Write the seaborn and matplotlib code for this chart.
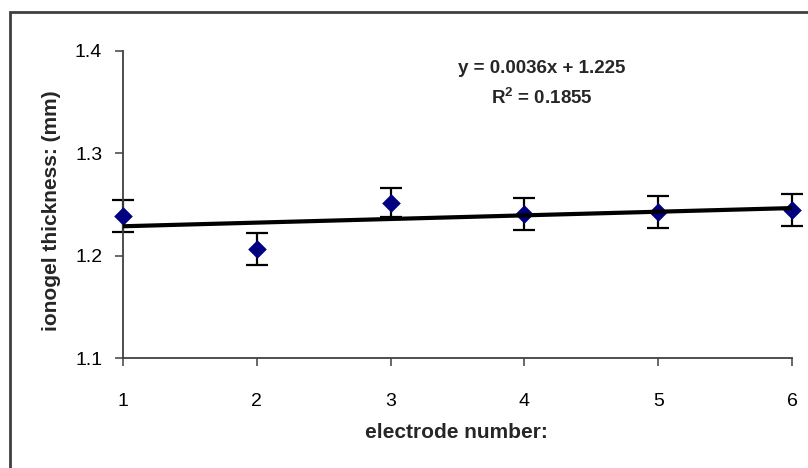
import matplotlib
matplotlib.use("Agg")
import matplotlib.pyplot as plt
import seaborn as sns
import pandas as pd
from matplotlib.patches import Rectangle

# data
electrodes = [1, 2, 3, 4, 5, 6]
thickness = [1.2387, 1.2068, 1.2518, 1.2407, 1.2426, 1.2443]
errors = [0.0155, 0.0157, 0.0145, 0.0156, 0.0158, 0.0157]
x_ticks = [1, 2, 3, 4, 5, 6]
y_ticks = [1.1, 1.2, 1.3, 1.4]
y_tick_labels = ["1.1", "1.2", "1.3", "1.4"]
eq_text = "y = 0.0036x + 1.225\nR$^2$ = 0.1855"
x_label = "electrode number:"
y_label = "ionogel thickness: (mm)"

df = pd.DataFrame({"electrode": electrodes, "thickness": thickness, "err": errors})

sns.set_style("white")
plt.rcParams["font.family"] = ["Liberation Sans", "DejaVu Sans"]
plt.rcParams["mathtext.fontset"] = "custom"
plt.rcParams["mathtext.rm"] = "Liberation Sans:bold"
plt.rcParams["mathtext.bf"] = "Liberation Sans:bold"

fig = plt.figure(figsize=(8.08, 4.68), dpi=100)
ax = fig.add_axes([123 / 808, 1 - 358 / 468, (792 - 123) / 808, (358 - 50.7) / 468])

# outer chart border (cut off at right and bottom)
fig.patches.append(Rectangle((10 / 808, -0.1), 1.2, 1 - 11.5 / 468 + 0.1,
                             transform=fig.transFigure, fill=False,
                             edgecolor="#404040", linewidth=2.0, zorder=0))

ax.errorbar(df["electrode"], df["thickness"], yerr=df["err"], fmt="none",
            ecolor="black", elinewidth=1.6, capsize=8, capthick=1.6, zorder=2,
            clip_on=False)
sns.scatterplot(data=df, x="electrode", y="thickness", marker="D", s=90,
                color="#000080", edgecolor="#000080", linewidth=0, ax=ax,
                zorder=3, clip_on=False)
sns.regplot(data=df, x="electrode", y="thickness", scatter=False, ci=None,
            truncate=True, color="black", line_kws={"linewidth": 3, "zorder": 4},
            ax=ax)

ax.set_xlim(1, 6)
ax.set_ylim(1.1, 1.4)
ax.set_xticks(x_ticks)
ax.set_yticks(y_ticks)
ax.set_yticklabels(y_tick_labels)

for s in ["top", "right"]:
    ax.spines[s].set_visible(False)
for s in ["left", "bottom"]:
    ax.spines[s].set_color("#404040")
    ax.spines[s].set_linewidth(1.3)

ax.tick_params(axis="both", direction="out", length=6, width=1.1, color="#404040",
               labelsize=14, labelcolor="black")
ax.tick_params(axis="x", pad=19, bottom=True)
ax.tick_params(axis="y", pad=9, left=True)
ax.grid(False)

ax.set_xlabel(x_label, fontsize=15, fontweight="bold")
ax.set_ylabel(y_label, fontsize=15, fontweight="bold")
ax.xaxis.set_label_coords((456 - 123) / (792 - 123), -(433 - 358) / (358 - 50.7))
ax.yaxis.set_label_coords(-(123 - 52) / (792 - 123), (358 - 211) / (358 - 50.7))
ax.xaxis.label.set_va("center")
ax.yaxis.label.set_va("center")

ax.text((542 - 123) / (792 - 123), (358 - 84) / (358 - 50.7), eq_text,
        transform=ax.transAxes, ha="center", va="center", multialignment="center",
        fontsize=13.5, fontweight="bold", linespacing=1.6)

fig.savefig("out.png", dpi=100)
